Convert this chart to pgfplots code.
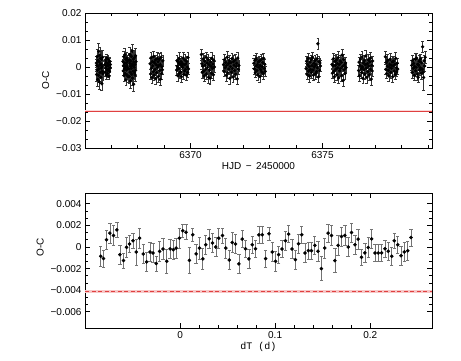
\documentclass[border=0pt]{standalone}
\usepackage{pgfplots}
\usepackage{pgfplotstable}
\pgfplotsset{compat=1.18}
\usepackage{fontspec}
\setmainfont{Liberation Sans}
\newfontfamily\monofont{Liberation Mono}
\definecolor{redline}{rgb}{0.88,0.25,0.25}
\definecolor{pinkband}{rgb}{0.97,0.78,0.78}
\definecolor{pinkband2}{rgb}{0.98,0.85,0.85}

\pgfplotstableread{
x y e
6366.43 0.0015 0.0024
6366.44 -0.0028 0.0026
6366.45 0.0006 0.0022
6366.46 0.0039 0.0028
6366.47 -0.0012 0.0023
6366.48 -0.0046 0.0025
6366.49 0.0024 0.0027
6366.50 0.0003 0.0021
6366.51 -0.0031 0.0024
6366.52 0.0058 0.0029
6366.53 -0.0007 0.0022
6366.54 0.0019 0.0025
6366.55 -0.0055 0.0026
6366.56 0.0044 0.0028
6366.57 -0.0020 0.0023
6366.58 0.0009 0.0022
6366.59 0.0032 0.0026
6366.60 -0.0038 0.0024
6366.61 0.0011 0.0021
6366.62 -0.0004 0.0023
6366.63 0.0028 0.0025
6366.64 -0.0062 0.0026
6366.65 0.0002 0.0022
6366.66 -0.0016 0.0024
6366.67 0.0036 0.0027
6366.68 -0.0025 0.0023
6366.750 0.0008 0.0014
6366.761 -0.0019 0.0015
6366.772 0.0026 0.0013
6366.783 -0.0004 0.0016
6366.794 0.0017 0.0014
6366.805 -0.0030 0.0015
6366.816 0.0002 0.0013
6366.827 0.0033 0.0016
6366.838 -0.0012 0.0014
6366.849 -0.0024 0.0015
6366.860 0.0011 0.0013
6366.871 0.0029 0.0014
6366.882 -0.0009 0.0016
6366.893 0.0005 0.0015
6366.904 -0.0034 0.0013
6366.915 0.0019 0.0014
6366.926 -0.0016 0.0015
6366.937 0.0022 0.0014
6366.948 -0.0002 0.0016
6366.959 0.0009 0.0013
6367.44 0.0021 0.0020
6367.45 -0.0014 0.0018
6367.46 0.0005 0.0022
6367.47 0.0038 0.0019
6367.48 -0.0032 0.0021
6367.49 0.0012 0.0017
6367.50 -0.0006 0.0020
6367.51 0.0045 0.0023
6367.52 -0.0024 0.0019
6367.53 0.0001 0.0020
6367.54 0.0029 0.0018
6367.55 -0.0048 0.0021
6367.56 0.0016 0.0022
6367.57 -0.0011 0.0019
6367.58 0.0033 0.0020
6367.59 -0.0029 0.0018
6367.60 0.0007 0.0021
6367.61 -0.0002 0.0019
6367.62 0.0024 0.0020
6367.63 -0.0036 0.0022
6367.66 -0.0008 0.0025
6367.67 0.0027 0.0023
6367.68 -0.0035 0.0027
6367.69 0.0014 0.0022
6367.70 0.0046 0.0026
6367.71 -0.0019 0.0024
6367.72 0.0003 0.0021
6367.73 -0.0052 0.0028
6367.74 0.0022 0.0025
6367.75 -0.0005 0.0023
6367.76 0.0039 0.0026
6367.77 -0.0027 0.0022
6367.78 0.0010 0.0024
6367.79 0.0059 0.0027
6367.80 -0.0041 0.0025
6367.81 0.0006 0.0023
6367.82 -0.0015 0.0022
6367.83 0.0029 0.0026
6367.84 -0.0064 0.0025
6367.85 0.0018 0.0024
6367.86 -0.0001 0.0023
6367.87 0.0034 0.0027
6367.88 -0.0022 0.0022
6367.89 0.0009 0.0025
6367.90 -0.0030 0.0024
6367.91 0.0042 0.0026
6367.92 -0.0012 0.0023
6367.93 0.0020 0.0025
6368.470 0.0012 0.0020
6368.486 -0.0026 0.0019
6368.503 0.0034 0.0022
6368.519 -0.0005 0.0018
6368.536 -0.0039 0.0021
6368.552 0.0020 0.0020
6368.569 0.0004 0.0019
6368.585 -0.0017 0.0023
6368.602 0.0039 0.0021
6368.618 -0.0030 0.0018
6368.635 0.0015 0.0020
6368.651 -0.0009 0.0022
6368.668 0.0026 0.0019
6368.684 -0.0043 0.0021
6368.701 0.0008 0.0020
6368.717 -0.0021 0.0018
6368.734 0.0031 0.0022
6368.750 -0.0002 0.0020
6368.767 0.0019 0.0019
6368.783 -0.0035 0.0021
6368.800 0.0006 0.0020
6368.816 0.0028 0.0023
6368.833 -0.0013 0.0018
6368.849 -0.0046 0.0020
6368.866 0.0010 0.0021
6368.882 0.0036 0.0019
6368.899 -0.0024 0.0022
6368.915 0.0001 0.0020
6368.932 -0.0010 0.0018
6368.948 0.0023 0.0021
6369.470 -0.0011 0.0019
6369.487 0.0024 0.0020
6369.503 0.0003 0.0018
6369.520 -0.0032 0.0021
6369.537 0.0016 0.0019
6369.553 -0.0006 0.0018
6369.570 0.0031 0.0022
6369.587 -0.0023 0.0020
6369.603 0.0009 0.0019
6369.620 -0.0018 0.0018
6369.637 0.0020 0.0020
6369.653 -0.0036 0.0021
6369.670 0.0005 0.0019
6369.687 0.0013 0.0020
6369.703 -0.0002 0.0018
6369.720 0.0033 0.0021
6369.737 -0.0027 0.0020
6369.753 0.0008 0.0019
6369.770 -0.0014 0.0018
6369.787 0.0026 0.0022
6369.803 -0.0009 0.0020
6369.820 0.0011 0.0019
6369.837 -0.0030 0.0021
6369.853 0.0021 0.0018
6369.870 0.0000 0.0020
6369.887 -0.0020 0.0019
6369.903 0.0035 0.0021
6369.920 -0.0007 0.0020
6370.410 0.0046 0.0020
6370.428 0.0012 0.0019
6370.446 -0.0020 0.0021
6370.464 0.0004 0.0018
6370.483 0.0030 0.0020
6370.501 -0.0015 0.0022
6370.519 -0.0033 0.0019
6370.537 0.0022 0.0020
6370.555 0.0007 0.0018
6370.573 -0.0008 0.0021
6370.591 0.0036 0.0020
6370.610 -0.0026 0.0019
6370.628 0.0015 0.0022
6370.646 -0.0001 0.0018
6370.664 0.0027 0.0020
6370.682 -0.0038 0.0021
6370.700 0.0009 0.0019
6370.718 -0.0012 0.0020
6370.737 -0.0041 0.0022
6370.755 0.0019 0.0018
6370.773 0.0002 0.0020
6370.791 -0.0023 0.0019
6370.809 0.0032 0.0021
6370.827 -0.0005 0.0020
6370.845 0.0011 0.0018
6370.864 -0.0029 0.0021
6370.882 0.0024 0.0019
6370.900 0.0000 0.0020
6371.25 0.0009 0.0020
6371.27 -0.0016 0.0019
6371.29 0.0028 0.0021
6371.31 -0.0003 0.0018
6371.33 0.0017 0.0020
6371.35 -0.0031 0.0021
6371.37 0.0005 0.0019
6371.39 0.0036 0.0022
6371.41 -0.0022 0.0020
6371.43 0.0012 0.0018
6371.45 -0.0008 0.0020
6371.47 0.0023 0.0021
6371.49 -0.0042 0.0022
6371.51 0.0002 0.0019
6371.53 0.0016 0.0018
6371.55 -0.0019 0.0020
6371.57 0.0031 0.0021
6371.59 -0.0006 0.0019
6371.61 -0.0037 0.0020
6371.63 0.0020 0.0022
6371.65 0.0007 0.0018
6371.67 -0.0013 0.0020
6371.69 0.0026 0.0021
6371.71 -0.0027 0.0019
6371.73 0.0001 0.0020
6371.75 0.0014 0.0018
6371.77 -0.0044 0.0021
6371.79 0.0033 0.0020
6371.81 -0.0009 0.0019
6371.83 0.0006 0.0020
6372.400 0.0014 0.0018
6372.419 -0.0007 0.0019
6372.437 0.0025 0.0020
6372.456 -0.0021 0.0018
6372.475 0.0003 0.0019
6372.493 0.0030 0.0021
6372.512 -0.0013 0.0018
6372.531 0.0008 0.0020
6372.549 -0.0029 0.0019
6372.568 0.0019 0.0018
6372.587 -0.0002 0.0020
6372.605 0.0022 0.0019
6372.624 -0.0035 0.0021
6372.643 0.0006 0.0018
6372.661 -0.0010 0.0020
6372.680 0.0028 0.0019
6372.699 -0.0018 0.0018
6372.717 0.0001 0.0020
6372.736 0.0016 0.0019
6372.755 -0.0025 0.0021
6372.773 0.0032 0.0018
6372.792 -0.0005 0.0020
6372.811 0.0010 0.0019
6372.830 -0.0016 0.0018
6374.380 -0.0006 0.0019
6374.399 0.0021 0.0020
6374.417 -0.0028 0.0018
6374.436 0.0009 0.0021
6374.455 0.0032 0.0019
6374.473 -0.0015 0.0020
6374.492 0.0002 0.0018
6374.510 -0.0034 0.0022
6374.529 0.0018 0.0019
6374.548 -0.0009 0.0020
6374.566 0.0027 0.0018
6374.585 -0.0020 0.0021
6374.603 0.0005 0.0019
6374.622 0.0036 0.0020
6374.641 -0.0011 0.0018
6374.659 -0.0030 0.0021
6374.678 0.0013 0.0019
6374.697 0.0000 0.0020
6374.715 0.0024 0.0018
6374.734 -0.0025 0.0022
6374.752 0.0008 0.0019
6374.771 -0.0017 0.0020
6374.790 0.0030 0.0018
6374.808 -0.0003 0.0021
6374.827 0.0086 0.0022
6374.845 -0.0037 0.0020
6374.864 0.0020 0.0018
6374.883 -0.0012 0.0021
6374.901 0.0015 0.0019
6374.920 0.0004 0.0020
6375.360 0.0010 0.0019
6375.378 -0.0023 0.0020
6375.397 0.0004 0.0018
6375.415 0.0031 0.0021
6375.433 -0.0016 0.0019
6375.452 -0.0036 0.0020
6375.470 0.0020 0.0022
6375.488 0.0006 0.0018
6375.506 -0.0008 0.0019
6375.525 0.0026 0.0020
6375.543 -0.0029 0.0021
6375.561 0.0013 0.0018
6375.580 -0.0003 0.0019
6375.598 0.0035 0.0022
6375.616 -0.0040 0.0020
6375.634 0.0009 0.0018
6375.653 -0.0014 0.0019
6375.671 0.0022 0.0021
6375.689 -0.0006 0.0020
6375.708 0.0017 0.0018
6375.726 -0.0032 0.0021
6375.744 0.0044 0.0022
6375.762 0.0002 0.0019
6375.781 -0.0050 0.0023
6375.799 0.0028 0.0020
6375.817 -0.0010 0.0018
6375.836 0.0008 0.0019
6375.854 -0.0024 0.0021
6375.872 0.0015 0.0020
6375.890 -0.0002 0.0018
6376.370 -0.0013 0.0020
6376.388 0.0018 0.0019
6376.407 -0.0033 0.0021
6376.425 0.0005 0.0018
6376.443 0.0029 0.0020
6376.462 -0.0007 0.0019
6376.480 -0.0021 0.0021
6376.498 0.0037 0.0022
6376.516 0.0000 0.0018
6376.535 -0.0042 0.0020
6376.553 0.0015 0.0019
6376.571 -0.0010 0.0021
6376.590 0.0024 0.0020
6376.608 -0.0026 0.0018
6376.626 0.0008 0.0019
6376.644 0.0041 0.0021
6376.663 -0.0004 0.0020
6376.681 -0.0038 0.0022
6376.699 0.0012 0.0018
6376.718 -0.0017 0.0019
6376.736 0.0027 0.0020
6376.754 0.0003 0.0021
6376.772 -0.0029 0.0019
6376.791 0.0019 0.0018
6376.809 -0.0008 0.0020
6376.827 0.0033 0.0022
6376.846 -0.0045 0.0021
6376.864 0.0006 0.0019
6376.882 -0.0015 0.0020
6376.900 0.0022 0.0018
6377.380 0.0038 0.0019
6377.399 -0.0009 0.0018
6377.418 0.0016 0.0020
6377.436 -0.0024 0.0019
6377.455 0.0003 0.0018
6377.474 0.0025 0.0021
6377.493 -0.0012 0.0019
6377.512 -0.0033 0.0020
6377.530 0.0011 0.0018
6377.549 0.0000 0.0019
6377.568 0.0029 0.0021
6377.587 -0.0020 0.0020
6377.606 0.0007 0.0018
6377.624 -0.0006 0.0019
6377.643 0.0019 0.0020
6377.662 -0.0036 0.0021
6377.681 0.0004 0.0018
6377.700 0.0022 0.0019
6377.718 -0.0015 0.0020
6377.737 0.0010 0.0018
6377.756 -0.0027 0.0019
6377.775 0.0032 0.0021
6377.794 -0.0003 0.0020
6377.812 -0.0018 0.0018
6377.831 0.0014 0.0019
6377.850 -0.0008 0.0020
6378.380 0.0006 0.0019
6378.399 -0.0020 0.0020
6378.418 0.0024 0.0018
6378.437 -0.0005 0.0021
6378.456 0.0013 0.0019
6378.474 -0.0031 0.0020
6378.493 0.0002 0.0018
6378.512 0.0029 0.0021
6378.531 -0.0014 0.0019
6378.550 -0.0001 0.0020
6378.569 0.0033 0.0018
6378.588 -0.0026 0.0022
6378.607 0.0010 0.0019
6378.626 -0.0038 0.0020
6378.644 0.0007 0.0018
6378.663 0.0021 0.0021
6378.682 -0.0011 0.0019
6378.701 -0.0003 0.0020
6378.720 0.0030 0.0018
6378.739 -0.0023 0.0021
6378.758 0.0016 0.0019
6378.777 -0.0008 0.0020
6378.796 0.0075 0.0020
6378.814 -0.0019 0.0019
6378.833 -0.0039 0.0048
6378.852 0.0023 0.0020
6378.871 0.0004 0.0018
6378.890 0.0036 0.0021
}\topdata

\pgfplotstableread{
x y e
-0.0834 -0.00086 0.0009
-0.0806 -0.00107 0.0008
-0.0774 0.00067 0.0009
-0.0739 0.00128 0.0009
-0.0700 0.00107 0.0009
-0.0665 0.00159 0.0007
-0.0633 -0.00071 0.0009
-0.0595 -0.00126 0.0007
-0.0563 -0.00003 0.0009
-0.0532 0.00027 0.0008
-0.0496 0.00058 0.0007
-0.0461 -0.00046 0.0012
-0.0426 0.00082 0.0009
-0.0387 -0.00064 0.0009
-0.0352 -0.00138 0.0009
-0.0317 -0.00046 0.0009
-0.0285 -0.00055 0.0009
-0.0250 -0.00153 0.0007
-0.0215 -0.00040 0.0009
-0.0180 -0.00018 0.0010
-0.0141 -0.00132 0.0011
-0.0105 -0.00018 0.0009
-0.0071 -0.00025 0.0009
-0.0042 -0.00010 0.0009
-0.0007 0.00082 0.0009
0.0028 0.00150 0.0006
0.0063 0.00137 0.0007
0.0098 -0.00123 0.0012
0.0133 0.00113 0.0006
0.0169 -0.00064 0.0009
0.0204 -0.00010 0.0010
0.0239 -0.00110 0.0010
0.0270 0.00021 0.0009
0.0306 0.00076 0.0009
0.0341 0.00037 0.0009
0.0376 0.00000 0.0009
0.0407 0.00082 0.0009
0.0446 0.00107 0.0007
0.0481 -0.00010 0.0009
0.0517 -0.00120 0.0009
0.0549 0.00042 0.0009
0.0583 0.00028 0.0009
0.0618 -0.00156 0.0009
0.0654 0.00073 0.0008
0.0689 -0.00016 0.0008
0.0724 -0.00110 0.0009
0.0759 0.00021 0.0008
0.0794 -0.00016 0.0008
0.0829 0.00113 0.0008
0.0865 0.00113 0.0008
0.0900 -0.00107 0.0008
0.0935 0.00122 0.0006
0.0970 -0.00046 0.0009
0.1005 -0.00132 0.0009
0.1037 -0.00071 0.0008
0.1072 -0.00018 0.0008
0.1108 0.00058 0.0009
0.1142 0.00119 0.0008
0.1177 -0.00018 0.0009
0.1213 -0.00117 0.0009
0.1245 0.00030 0.0009
0.1280 0.00113 0.0008
0.1314 -0.00055 0.0009
0.1350 -0.00034 0.0008
0.1382 -0.00034 0.0008
0.1417 0.00015 0.0008
0.1451 -0.00040 0.0009
0.1487 -0.00200 0.0011
0.1522 -0.00010 0.0009
0.1557 0.00128 0.0008
0.1593 0.00107 0.0009
0.1628 -0.00126 0.0011
0.1662 0.00015 0.0009
0.1698 0.00097 0.0009
0.1733 0.00107 0.0009
0.1768 0.00000 0.0009
0.1804 0.00134 0.0009
0.1839 0.00021 0.0009
0.1873 0.00073 0.0009
0.1909 -0.00095 0.0007
0.1944 -0.00055 0.0009
0.1979 -0.00004 0.0009
0.2015 0.00076 0.0009
0.2050 -0.00055 0.0008
0.2084 -0.00055 0.0008
0.2120 -0.00055 0.0008
0.2155 -0.00016 0.0008
0.2190 -0.00040 0.0008
0.2226 -0.00086 0.0008
0.2253 0.00058 0.0007
0.2289 0.00021 0.0008
0.2324 -0.00080 0.0009
0.2359 -0.00046 0.0009
0.2395 -0.00034 0.0009
0.2429 0.00088 0.0008
}\botdata

\begin{document}
\begin{tikzpicture}
\path[use as bounding box] (0pt,0pt) rectangle (461pt,360pt);
\pgfplotsset{
  myaxis/.style={
    scale only axis, width=347pt, height=135pt,
    anchor=south west,
    axis line style={line width=0.9pt},
    every tick/.style={black, line width=0.7pt},
    major tick length=5pt, minor tick length=3pt,
    tick align=inside,
    xtick pos=both, ytick pos=both,
    scaled x ticks=false, scaled y ticks=false,
    tick label style={font=\fontsize{10}{11}\selectfont},
    label style={font=\fontsize{10}{11}\selectfont},
    clip=true,
  }
}
\begin{axis}[myaxis, at={(85pt,212pt)},
  xmin=6366.0, xmax=6379.15, ymin=-0.03, ymax=0.02,
  xtick={6370,6375}, xticklabels={6370,6375},
  minor xtick={6366,6367,...,6379},
  ytick={-0.03,-0.02,-0.01,0,0.01,0.02},
  yticklabels={−0.03,−0.02,−0.01,0,0.01,0.02},
  minor y tick num=2,
  xlabel={HJD\, −\, 2450000}, ylabel={O-C},
  xlabel style={yshift=3pt},
]
\addplot[pinkband2, line width=2pt] coordinates {(6366.0,-0.0163) (6379.15,-0.0163)};
\addplot[redline, line width=0.8pt] coordinates {(6366.0,-0.0163) (6379.15,-0.0163)};
\addplot[only marks, mark=*, mark size=1.5pt, black,
  error bars/.cd, y dir=both, y explicit,
  error bar style={black!80, line width=0.55pt},
  error mark options={rotate=90, mark size=1.4pt, black!80, line width=0.55pt}]
  table[x=x, y=y, y error=e] {\topdata};
\end{axis}

\begin{axis}[myaxis, at={(85pt,32pt)},
  xmin=-0.1, xmax=0.265, ymin=-0.0075, ymax=0.005,
  xtick={0,0.1,0.2}, xticklabels={0,0.1,0.2},
  minor x tick num=4,
  ytick={-0.006,-0.004,-0.002,0,0.002,0.004},
  yticklabels={−0.006,−0.004,−0.002,0,0.002,0.004},
  minor y tick num=2,
  xlabel={\monofont dT (d)}, ylabel={O-C},
  ylabel style={at={(ticklabel cs:0.6)}},
  xlabel style={yshift=3pt},
]
\addplot[pinkband, line width=2.6pt] coordinates {(-0.1,-0.0041) (0.265,-0.0041)};
\addplot[redline, line width=0.9pt, dash pattern=on 4pt off 2.5pt] coordinates {(-0.1,-0.0041) (0.265,-0.0041)};
\addplot[only marks, mark=*, mark size=1.6pt, black,
  error bars/.cd, y dir=both, y explicit,
  error bar style={black!55, line width=0.6pt},
  error mark options={rotate=90, mark size=1.7pt, black!55, line width=0.6pt}]
  table[x=x, y=y, y error=e] {\botdata};
\end{axis}
\end{tikzpicture}
\end{document}
